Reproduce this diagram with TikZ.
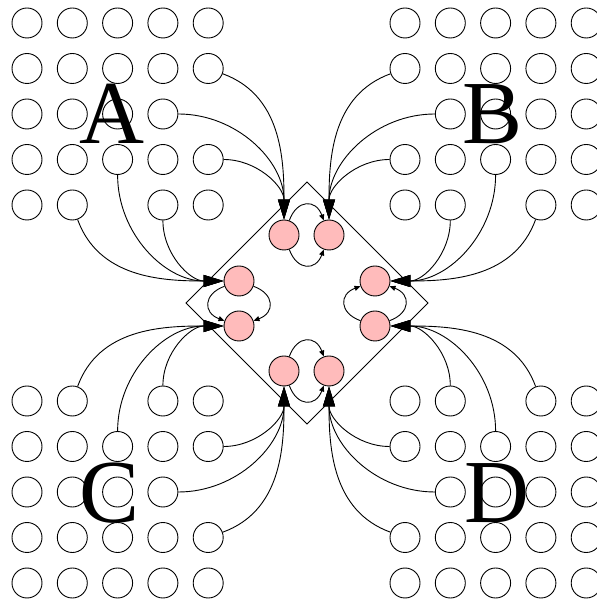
\documentclass[tikz,border=0pt]{standalone}
\usepackage{fontspec}
\newfontfamily\bigserif{Liberation Serif}
\usetikzlibrary{arrows.meta}
\definecolor{hubpink}{HTML}{FFBBBB}

\begin{document}
\begin{tikzpicture}[
      x=1pt, y=1pt, line width=0.9pt,
      cell/.style={draw, circle, inner sep=0pt, minimum size=30pt},
      hub/.style={cell, fill=hubpink},
      feed/.style={-{Triangle[length=20pt,width=12pt]}},
      turn/.style={-{Triangle[length=6pt,width=5pt]}, looseness=1.7},
      letter/.style={font=\bigserif\fontsize{90}{90}\selectfont, inner sep=0pt}
    ]
    \useasboundingbox (0,0) rectangle (596,601);

    % Grid A
    \foreach \r/\cols in {1/{1,2,3,4,5},2/{1,2,3,4,5},3/{1,2,3,4},4/{1,2,3,4,5},5/{1,2,4,5}}
      \foreach \c in \cols
        \node (a\r\c) [cell] at ({27+45.3*(\c-1)},{578-45.5*(\r-1)}) {};
    % Grid B
    \foreach \r/\cols in {1/{1,2,3,4,5},2/{1,2,3,4,5},3/{2,3,4,5},4/{1,2,3,4,5},5/{1,2,4,5}}
      \foreach \c in \cols
        \node (b\r\c) [cell] at ({405+45.3*(\c-1)},{578-45.5*(\r-1)}) {};
    % Grid C
    \foreach \r/\cols in {1/{1,2,4,5},2/{1,2,3,4,5},3/{1,2,3,4},4/{1,2,3,4,5},5/{1,2,3,4,5}}
      \foreach \c in \cols
        \node (c\r\c) [cell] at ({27+45.3*(\c-1)},{200-45.5*(\r-1)}) {};
    % Grid D
    \foreach \r/\cols in {1/{1,2,4,5},2/{1,2,3,4,5},3/{2,3,4,5},4/{1,2,3,4,5},5/{1,2,3,4,5}}
      \foreach \c in \cols
        \node (d\r\c) [cell] at ({405+45.3*(\c-1)},{200-45.5*(\r-1)}) {};

    % Letters
    \node (labela) [letter] at (112,487) {A};
    \node (labelb) [letter] at (493,487) {B};
    \node (labelc) [letter] at (110,108) {C};
    \node (labeld) [letter] at (497,108) {D};

    % Middle diamond and its hubs
    \draw (307,419) -- (428,298) -- (307,177) -- (186,298) -- cycle;
    \node (topleft) [hub] at (284,366) {};
    \node (topright) [hub] at (329,366) {};
    \node (leftup) [hub] at (239,320) {};
    \node (leftdown) [hub] at (239,275) {};
    \node (rightup) [hub] at (375,320) {};
    \node (rightdown) [hub] at (375,275) {};
    \node (bottomleft) [hub] at (284,230) {};
    \node (bottomright) [hub] at (329,230) {};

    % Feeds from the grids
    \foreach \n/\o in {a25/-20,a34/0,a45/0} \draw[feed] (\n) to[out=\o,in=90] (topleft);
    \foreach \n/\o in {a52/-70,a43/-90,a54/-90} \draw[feed] (\n) to[out=\o,in=180] (leftup);
    \foreach \n/\o in {b21/200,b32/180,b41/180} \draw[feed] (\n) to[out=\o,in=90] (topright);
    \foreach \n/\o in {b52/-90,b43/-90,b54/-110} \draw[feed] (\n) to[out=\o,in=0] (rightup);
    \foreach \n/\o in {c12/70,c23/90,c14/90} \draw[feed] (\n) to[out=\o,in=180] (leftdown);
    \foreach \n/\o in {c25/0,c34/0,c45/20} \draw[feed] (\n) to[out=\o,in=-90] (bottomleft);
    \foreach \n/\o in {d12/90,d23/90,d14/110} \draw[feed] (\n) to[out=\o,in=0] (rightdown);
    \foreach \n/\o in {d21/180,d32/180,d41/160} \draw[feed] (\n) to[out=\o,in=-90] (bottomright);

    % Turns inside the diamond
    \draw[turn] (topleft) to[out=70,in=110] (topright);
    \draw[turn] (topleft) to[out=-70,in=-110] (topright);
    \draw[turn] (leftup) to[out=-20,in=20] (leftdown);
    \draw[turn] (leftup) to[out=200,in=160] (leftdown);
    \draw[turn] (rightdown) to[out=160,in=200] (rightup);
    \draw[turn] (rightdown) to[out=20,in=-20] (rightup);
    \draw[turn] (bottomleft) to[out=70,in=110] (bottomright);
    \draw[turn] (bottomleft) to[out=-70,in=-110] (bottomright);
  \end{tikzpicture}
\end{document}
